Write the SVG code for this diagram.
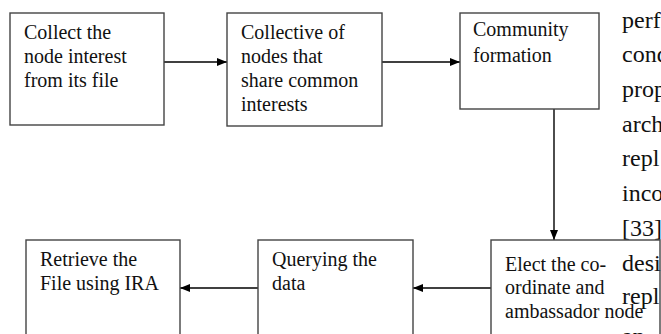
<svg xmlns="http://www.w3.org/2000/svg" width="661" height="334" viewBox="0 0 661 334">
  <defs>
    <marker id="arrow" viewBox="0 0 10 8" refX="10" refY="4" markerWidth="10" markerHeight="8" markerUnits="userSpaceOnUse" orient="auto">
      <path d="M0,0 L10,4 L0,8 Z" fill="#000"/>
    </marker>
    <clipPath id="page">
      <rect x="0" y="0" width="661" height="334"/>
    </clipPath>
  </defs>
  <style>
    .box { fill: #fff; stroke: #444; stroke-width: 1.4; }
    .label { font-family: "Liberation Serif", "Times New Roman", serif; font-size: 20px; fill: #111; }
    .body { font-family: "Liberation Serif", "Times New Roman", serif; font-size: 24px; fill: #111; }
    .edge { fill: none; stroke: #000; stroke-width: 1.4; marker-end: url(#arrow); }
  </style>
  <rect width="661" height="334" fill="#fff"/>

  <g id="connectors">
    <line class="edge" x1="164" y1="62" x2="227" y2="62"/>
    <line class="edge" x1="382" y1="62" x2="460" y2="62"/>
    <line class="edge" x1="554" y1="109" x2="554" y2="240"/>
    <line class="edge" x1="491" y1="288" x2="413" y2="288"/>
    <line class="edge" x1="258" y1="288" x2="180" y2="288"/>
  </g>

  <g id="collect">
    <rect class="box" x="10" y="13" width="154" height="112"/>
    <text class="label" x="24" y="39">Collect the</text>
    <text class="label" x="24" y="63">node interest</text>
    <text class="label" x="24" y="87">from its file</text>
  </g>

  <g id="collective">
    <rect class="box" x="227" y="13" width="155" height="113"/>
    <text class="label" x="241" y="39">Collective of</text>
    <text class="label" x="241" y="63">nodes that</text>
    <text class="label" x="241" y="87">share common</text>
    <text class="label" x="241" y="111">interests</text>
  </g>

  <g id="community">
    <rect class="box" x="460" y="13" width="139" height="96"/>
    <text class="label" x="473" y="36">Community</text>
    <text class="label" x="473" y="62">formation</text>
  </g>

  <g id="elect">
    <rect class="box" x="491" y="240" width="169" height="110"/>
    <text class="label" x="505" y="271">Elect the co-</text>
    <text class="label" x="505" y="294">ordinate and</text>
    <text class="label" x="505" y="318">ambassador node</text>
  </g>

  <g id="querying">
    <rect class="box" x="258" y="240" width="155" height="110"/>
    <text class="label" x="272" y="266">Querying the</text>
    <text class="label" x="272" y="290">data</text>
  </g>

  <g id="retrieve">
    <rect class="box" x="26" y="240" width="154" height="110"/>
    <text class="label" x="40" y="266">Retrieve the</text>
    <text class="label" x="40" y="290">File using IRA</text>
  </g>

  <!-- running page text beside the figure, cut off at the right margin -->
  <g id="page-text" clip-path="url(#page)">
    <text class="body" x="622" y="28">perf</text>
    <text class="body" x="622" y="62">cond</text>
    <text class="body" x="622" y="97">prop</text>
    <text class="body" x="622" y="132">arch</text>
    <text class="body" x="622" y="166">repl</text>
    <text class="body" x="622" y="201">inco</text>
    <text class="body" x="622" y="236">[33]</text>
    <text class="body" x="622" y="271">desi</text>
    <text class="body" x="622" y="304">repl</text>
    <text class="body" x="622" y="344">an</text>
  </g>
</svg>
